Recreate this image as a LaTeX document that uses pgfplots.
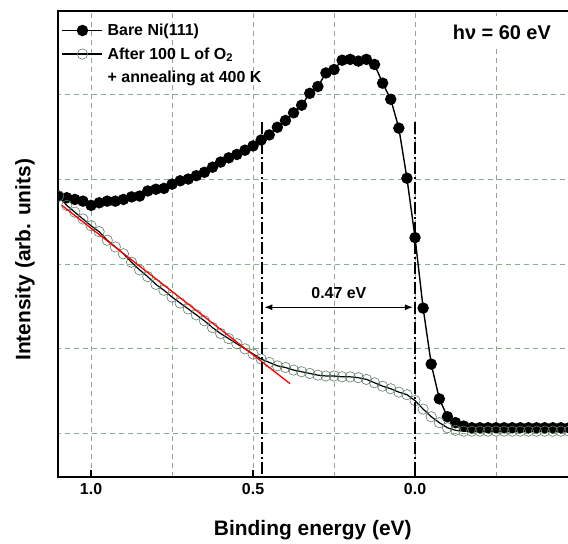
\documentclass[border=0pt]{standalone}
\usepackage{fontspec}
\setmainfont{Liberation Sans}
\usepackage{pgfplots}
\usepackage{pgfplotstable}
\pgfplotsset{compat=1.18}
\usetikzlibrary{arrows.meta}
\definecolor{gridc}{RGB}{140,170,145}
\definecolor{openc}{RGB}{95,125,105}

\pgfplotstableread{
be v
1.100 3.80
1.075 3.78
1.050 3.76
1.025 3.74
1.000 3.69
0.975 3.72
0.950 3.74
0.925 3.74
0.900 3.76
0.875 3.79
0.850 3.80
0.825 3.86
0.800 3.88
0.775 3.89
0.750 3.94
0.725 3.98
0.700 4.00
0.675 4.04
0.650 4.08
0.625 4.14
0.600 4.20
0.575 4.25
0.550 4.29
0.525 4.34
0.500 4.39
0.475 4.46
0.450 4.52
0.425 4.61
0.400 4.69
0.375 4.78
0.350 4.87
0.325 5.01
0.300 5.09
0.275 5.25
0.250 5.29
0.225 5.40
0.200 5.41
0.175 5.39
0.150 5.41
0.125 5.35
0.100 5.13
0.075 4.94
0.050 4.60
0.025 4.01
0.000 3.31
-0.025 2.48
-0.050 1.82
-0.075 1.41
-0.100 1.20
-0.125 1.13
-0.150 1.09
-0.175 1.07
-0.200 1.07
-0.225 1.07
-0.250 1.07
-0.275 1.07
-0.300 1.07
-0.325 1.07
-0.350 1.07
-0.375 1.07
-0.400 1.07
-0.425 1.07
-0.450 1.07
-0.475 1.07
}\bare

\pgfplotstableread{
be v
1.100 3.80
1.075 3.69
1.050 3.61
1.025 3.53
1.000 3.45
0.975 3.38
0.950 3.28
0.925 3.20
0.900 3.12
0.875 3.02
0.850 2.93
0.825 2.85
0.800 2.76
0.775 2.69
0.750 2.61
0.725 2.54
0.700 2.47
0.675 2.40
0.650 2.33
0.625 2.25
0.600 2.18
0.575 2.12
0.550 2.06
0.525 2.00
0.500 1.94
0.475 1.88
0.450 1.84
0.425 1.80
0.400 1.78
0.375 1.75
0.350 1.73
0.325 1.71
0.300 1.69
0.275 1.68
0.250 1.68
0.225 1.67
0.200 1.67
0.175 1.66
0.150 1.64
0.125 1.60
0.100 1.56
0.075 1.53
0.050 1.49
0.025 1.46
0.000 1.39
-0.025 1.29
-0.050 1.20
-0.075 1.13
-0.100 1.07
-0.125 1.04
-0.150 1.03
-0.175 1.03
-0.200 1.03
-0.225 1.03
-0.250 1.03
-0.275 1.03
-0.300 1.03
-0.325 1.03
-0.350 1.03
-0.375 1.03
-0.400 1.03
-0.425 1.03
-0.450 1.03
-0.475 1.03
}\oxy

\begin{document}
\begin{tikzpicture}
\begin{axis}[
  scale only axis, width=515.8bp, height=466bp,
  x dir=reverse, xmin=-0.49, xmax=1.102, ymin=0.49, ymax=5.98,
  axis line style={line width=2.2bp},
  xtick={1,0.5,0}, minor xtick={0.75,0.25,-0.25},
  ytick={1,2,3,4,5}, yticklabels={},
  grid=both,
  major grid style={gridc, dash pattern=on 5bp off 4bp, line width=0.8bp},
  minor grid style={gridc, dash pattern=on 5bp off 4bp, line width=0.8bp},
  minor tick length=0pt,
  ytick style={draw=none},
  xtick style={line width=2bp, black},
  xtick pos=left, tick align=inside, major tick length=7bp,
  /pgf/number format/assume math mode=true,
  xticklabel style={font=\fontsize{16}{19}\selectfont\bfseries, yshift=-3bp,
    /pgf/number format/.cd, fixed, fixed zerofill, precision=1},
  xlabel={Binding energy (eV)},
  ylabel={Intensity (arb. units)},
  every axis x label/.style={at={(axis description cs:0.494,0)}, anchor=center, yshift=-53bp,
    font=\fontsize{21}{25}\selectfont\bfseries},
  every axis y label/.style={at={(axis description cs:-0.064,0.466)}, anchor=center, rotate=90,
    font=\fontsize{21}{25}\selectfont\bfseries},
  clip marker paths=true,
  legend cell align=left,
  legend image code/.code={\draw[mark repeat=2,mark phase=2,#1] plot coordinates {(0bp,0bp) (20bp,0bp) (40bp,0bp)};},
  legend style={at={(axis description cs:0.005,0.979)}, anchor=north west, draw=none, fill=none,
    font=\fontsize{16}{19}\selectfont\bfseries, row sep=6.5bp, inner sep=1bp,
    nodes={inner xsep=4.5bp, inner ysep=2bp}},
]
\addplot[black, line width=1.4bp, mark=*, mark size=5bp, mark options={fill=black, solid}] table[x=be, y=v] {\bare};
\addlegendentry{Bare Ni(111)}
\addplot[black, line width=1.2bp, mark=o, mark size=5.2bp, mark options={openc, line width=0.6bp, solid}] table[x=be, y=v] {\oxy};
\addlegendentry{After 100 L of O\textsubscript{2}}
\addlegendimage{empty legend}
\addlegendentry{+ annealing at 400 K}
\addplot[red, line width=1.3bp, forget plot] coordinates {(1.09,3.69) (0.386,1.59)};
\addplot[black, line width=2.3bp, dash pattern=on 12bp off 3bp on 2bp off 3bp, forget plot] coordinates {(0.472,4.67) (0.472,0.49)};
\addplot[black, line width=2.3bp, dash pattern=on 12bp off 3bp on 2bp off 3bp, forget plot] coordinates {(0.0,4.67) (0.0,0.49)};
\draw[{Latex[length=8bp,width=6bp]}-{Latex[length=8bp,width=6bp]}, line width=0.9bp] (axis cs:0.465,2.49) -- (axis cs:0.007,2.49);
\node[font=\fontsize{16}{19}\selectfont\bfseries] at (axis cs:0.235,2.66) {0.47 eV};
\node[font=\fontsize{20}{24}\selectfont\bfseries, fill=white, inner xsep=4bp, inner ysep=9bp] at (axis cs:-0.268,5.73) {hν = 60 eV};
\coordinate (O) at (axis description cs:0,0);
\end{axis}
\pgfresetboundingbox
\useasboundingbox (O) ++(-58bp,-67bp) rectangle ++(568bp,544bp);
\end{tikzpicture}
\end{document}
